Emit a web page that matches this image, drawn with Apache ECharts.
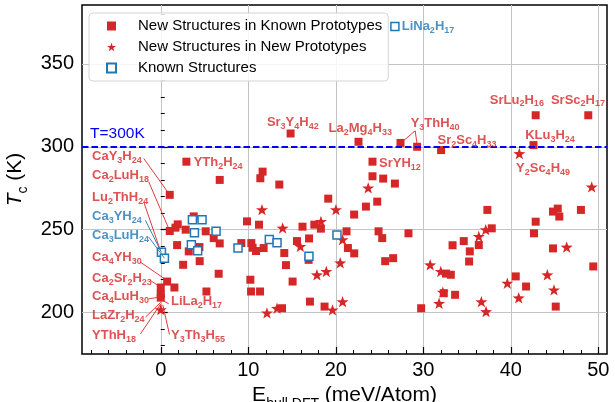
<!DOCTYPE html>
<html><head><meta charset="utf-8">
<script src="https://cdn.jsdelivr.net/npm/echarts@6/dist/echarts.min.js"></script>
<style>html,body{margin:0;padding:0;background:#fff}#c{width:615px;height:402px}</style>
</head><body><div id="c"></div>
<script>
// ---------------- data ----------------
const xTicks = [0, 10, 20, 30, 40, 50];
const xMinorTicks = [-8,-6,-4,-2,0,2,4,6,8,10,12,14,16,18,20,22,24,26,28,30,32,34,36,38,40,42,44,46,48,50];
const yTicks = [200, 250, 300, 350];
const yMinorTicks = [180,190,200,210,220,230,240,250,260,270,280,290,300,310,320,330,340,350,360,370,380];

const knownPrototypes = [
  [14.84,308],[22.6,303],[27.4,302.3],[29.3,300],[32.04,298],[42.6,301],[42.85,319],[48.86,319],
  [24.2,291],[2.93,291],[1.03,271],[6.74,280],[11.64,285],[11.38,281],[13.55,277.2],
  [24.2,282.2],[25.42,280.8],[26.76,277.8],[19.14,268.7],[24.74,266.9],[23.45,263.9],[22.1,259.1],
  [37.33,261.9],[44.83,260.9],[45.37,262.7],[45.55,257.9],[48.02,261.9],[42.85,254.8],[42.66,247.8],
  [44.83,238.7],[49.43,227.8],[40.57,221.8],[41.75,215.7],[45.14,203.6],[37.83,250.8],[34.63,243.1],
  [33.35,240.6],[35.32,236.9],[36.35,240.7],[35.24,230.8],[32.6,223.5],[33.15,222.8],[33.64,210.7],
  [32.35,211.7],[29.76,202.6],[28.31,247.8],[25.65,231],[26.56,232.8],[24.89,249],[25.31,244.9],
  [21.23,249],[21.39,238.9],[22.11,235.7],[17.55,253],[18.3,250.6],[16.2,251.8],[16.95,244.7],
  [16.9,231.8],[17.05,206.6],[18.72,203.6],[15.57,243.1],[15.07,218.7],[14.12,235.9],[14.31,228.6],
  [13.86,202.6],[9.86,255],[11.23,253],[9.21,241.9],[10.35,241.9],[10.5,239.1],[10.89,237.1],
  [11.76,238.9],[10.24,219.8],[10.32,212.7],[11.35,212.7],[1.94,253.2],[1.68,251.2],[1.03,249.2],
  [2.85,250],[5.14,249],[3.77,258],[6.05,244.9],[6.74,241.7],[1.87,240.7],[3.2,236.9],[4.42,239.5],
  [4.45,231],[2.56,228.8],[6.62,223.4],[0.73,218.7],[0,215.1],[1.56,215.1],[0,211],[0,209],[5.22,212.7]
];
const newPrototypes = [
  [11.57,262.1],[13.93,251],[15.95,239.9],[0,201.8],[12.14,199.8],[13.29,202.6],[23.71,275.2],
  [20.02,262.1],[18.31,255],[20.78,244],[20.51,230],[17.85,222.8],[18.92,224.8],[20.78,206.6],
  [19.63,201.6],[30.79,228.8],[32.0,224.8],[32.24,212.3],[31.81,205.6],[40.98,295.9],[49.25,275.8],
  [37.14,250],[36.35,245.9],[46.39,239.5],[44.18,222.8],[44.94,213.7],[39.61,217.7],[40.91,208.9],
  [36.64,206.6],[37.18,200.6]
];
const knownStructures = [
  [0.08,236.3],[0.42,232.8],[3.62,256],[4.72,256],[3.85,248.2],[6.32,249],[3.5,240.9],[4.22,237.3],
  [8.83,238.9],[12.41,244],[13.29,242.1],[16.94,233.9],[20.14,246.7],[26.76,372.5]
];
const seriesNames = ['New Structures in Known Prototypes','New Structures in New Prototypes','Known Structures'];
const thresholdK = 300;

// annotation texts with label anchor and leader line (layout, in data units)
const annotations = [
  {t:'CaY3H24',   c:'r', at:[-7.91,294.0], line:[[-1.94,292.9],[1.03,271]]},
  {t:'Ca2LuH18',  c:'r', at:[-7.91,282.8], line:[[-1.37,278.8],[1.03,249.2]]},
  {t:'Lu2ThH24',  c:'r', at:[-7.91,269.5], line:[[-1.94,266.7],[-0.05,237.5]]},
  {t:'Ca3YH24',   c:'b', at:[-7.91,258.0], line:[[-1.75,255.6],[0.08,236.3]]},
  {t:'Ca3LuH24',  c:'b', at:[-7.91,246.6], line:[[-1.37,245.5],[0.42,232.8]]},
  {t:'Ca4YH30',   c:'r', at:[-7.91,233.4], line:[[-2.32,230.4],[0.73,219.3]]},
  {t:'Ca2Sr2H23', c:'r', at:[-7.91,220.4], line:[[-1.18,219.3],[0,215.3]]},
  {t:'Ca4LuH30',  c:'r', at:[-7.91,209.7], line:[[-1.37,208.3],[-0.15,209.3]]},
  {t:'LaZr2H24',  c:'r', at:[-7.91,198.2], line:[[-1.75,197.2],[0,206.2]]},
  {t:'YThH18',    c:'r', at:[-7.91,186.1], line:[[-2.32,187.1],[0,205.3]]},
  {t:'LiLa2H17',  c:'r', at:[1.11,206.7],  line:[[0.91,205.3],[0.23,207.3]]},
  {t:'Y3Th3H55',  c:'r', at:[1.11,186.1],  line:[[1.0,186.7],[0.23,204.7]]},
  {t:'YTh2H24',   c:'r', at:[3.7,290.5]},
  {t:'Sr3Y4H42',  c:'r', at:[15.09,314.9], center:true},
  {t:'La2Mg4H33', c:'r', at:[22.8,311],    center:true},
  {t:'Y3ThH40',   c:'r', at:[31.36,314.3], center:true, line:[[29.08,309.6],[27.36,302]], line2:[[29.08,309.6],[29.33,300.2]]},
  {t:'Sr2Sc4H33', c:'r', at:[35.0,304],    center:true},
  {t:'SrYH12',    c:'r', at:[24.89,289.9]},
  {t:'SrLu2H16',  c:'r', at:[40.7,328.2],  center:true},
  {t:'SrSc2H17',  c:'r', at:[47.68,328.2], center:true},
  {t:'KLu3H24',   c:'r', at:[44.49,307.0], center:true},
  {t:'Y2Sc4H49',  c:'r', at:[43.69,286.9], center:true},
  {t:'LiNa2H17',  c:'b', at:[27.48,372.3]}
];

// ---------------- styling ----------------
const RED = '#d62728', BLUE = '#1f77b4';
const FONT = 'Liberation Sans';
const STAR = 'path://M0,-10L2.35,-3.24L9.51,-3.09L3.8,1.24L5.88,8.09L0,4L-5.88,8.09L-3.8,1.24L-9.51,-3.09L-2.35,-3.24Z';

function chem(s){
  return s.match(/\d+|\D+/g).map(t => /\d/.test(t) ? '{s|'+t+'}' : '{m|'+t+'}').join('');
}
function richFor(color){
  return {
    m:{fontSize:13, fontWeight:'bold', color:color, fontFamily:FONT, lineHeight:17, verticalAlign:'middle'},
    s:{fontSize:9, fontWeight:'bold', color:color, fontFamily:FONT, lineHeight:17, verticalAlign:'bottom'}
  };
}

const annData = annotations.map(a => {
  const col = a.c === 'b' ? BLUE : RED;
  return {
    value: a.at,
    label: {
      show:true, formatter: chem(a.t), rich: richFor(col),
      position: a.center ? 'inside' : 'right', distance: 0
    }
  };
});
const leaderLines = [];
annotations.forEach(a => {
  const col = a.c === 'b' ? BLUE : RED;
  [a.line, a.line2].forEach(l => {
    if (l) leaderLines.push([{coord:l[0], lineStyle:{color:col, width:0.9, type:'solid'}}, {coord:l[1]}]);
  });
});

const chart = echarts.init(document.getElementById('c'), null, {renderer:'canvas'});
const baseX = {min:-9, max:51, position:'bottom', type:'value'};
const baseY = {min:175, max:385.5, position:'left', type:'value'};
chart.setOption({
  animation:false,
  textStyle:{fontFamily:FONT},
  grid:{left:82, right:8, top:5, bottom:48, show:true, borderColor:'#000', borderWidth:1.5,
        backgroundColor:'transparent', containLabel:false, outerBoundsMode:'none'},
  xAxis:[
    Object.assign({}, baseX, {
      axisLine:{show:false},
      axisTick:{show:true, inside:true, length:7, customValues:xTicks, lineStyle:{color:'#000', width:1.2}},
      axisLabel:{customValues:xTicks, fontSize:20, color:'#000', margin:6, fontFamily:FONT},
      splitLine:{show:true, lineStyle:{color:'#c4c4c4', width:1}},
      name:'{m|E}{s|hull,DFT}{m| (meV/Atom)}', nameLocation:'middle', nameGap:17,
      nameTextStyle:{rich:{
        m:{fontSize:21, color:'#000', fontFamily:FONT, lineHeight:30, verticalAlign:'middle'},
        s:{fontSize:14, color:'#000', fontFamily:FONT, lineHeight:32, verticalAlign:'bottom'}
      }}
    }),
    Object.assign({}, baseX, {
      axisLine:{show:false},
      axisTick:{show:true, inside:true, length:4, customValues:xMinorTicks, lineStyle:{color:'#000', width:1}},
      axisLabel:{show:false}, splitLine:{show:false}
    })
  ],
  yAxis:[
    Object.assign({}, baseY, {
      axisLine:{show:false},
      axisTick:{show:true, inside:true, length:7, customValues:yTicks, lineStyle:{color:'#000', width:1.2}},
      axisLabel:{customValues:yTicks, fontSize:20, color:'#000', margin:8, fontFamily:FONT},
      splitLine:{show:true, lineStyle:{color:'#c4c4c4', width:1}},
      name:'{i|T}{s|c}{m| (K)}', nameLocation:'middle', nameGap:44,
      nameTextStyle:{rich:{
        i:{fontSize:21, color:'#000', fontFamily:FONT, fontStyle:'italic', lineHeight:30, verticalAlign:'middle'},
        m:{fontSize:21, color:'#000', fontFamily:FONT, lineHeight:30, verticalAlign:'middle'},
        s:{fontSize:14, color:'#000', fontFamily:FONT, lineHeight:30, verticalAlign:'bottom'}
      }}
    }),
    Object.assign({}, baseY, {
      axisLine:{show:false},
      axisTick:{show:true, inside:true, length:4, customValues:yMinorTicks, lineStyle:{color:'#000', width:1}},
      axisLabel:{show:false}, splitLine:{show:false}
    })
  ],
  legend:{
    data:seriesNames, orient:'vertical', left:89, top:13, selectedMode:false,
    itemWidth:9, itemHeight:9, itemGap:3,
    padding:[4,6,4,17],
    backgroundColor:'rgba(255,255,255,0.85)', borderColor:'#d4d4d4', borderWidth:1, borderRadius:4,
    textStyle:{fontSize:15, color:'#000', fontFamily:FONT, padding:[0,0,0,17], lineHeight:18}
  },
  series:[
    {name:seriesNames[0], type:'scatter', data:knownPrototypes, symbol:'rect', symbolSize:8,
     itemStyle:{color:RED, opacity:1}, z:3},
    {name:seriesNames[1], type:'scatter', data:newPrototypes, symbol:STAR, symbolSize:12, symbolKeepAspect:true,
     itemStyle:{color:RED, opacity:1}, z:3},
    {name:seriesNames[2], type:'scatter', data:knownStructures, symbol:'rect', symbolSize:8,
     itemStyle:{color:'#ffffff', borderColor:BLUE, borderWidth:1.5, opacity:1}, z:4},
    {name:'annotations', type:'scatter', data:annData, symbol:'circle', symbolSize:1, silent:true,
     itemStyle:{color:'rgba(0,0,0,0)'}, z:5,
     markLine:{
       silent:true, symbol:['none','none'], animation:false,
       label:{show:false},
       data:[
         {yAxis:thresholdK, lineStyle:{color:'#0000ff', width:2, type:[6.5,3]},
          label:{show:true, formatter:'T=300K', position:'insideStartTop', color:'#0000ff', fontSize:15.5, fontFamily:FONT, distance:[8,5]}}
       ].concat(leaderLines)
     }}
  ]
});
</script></body></html>
